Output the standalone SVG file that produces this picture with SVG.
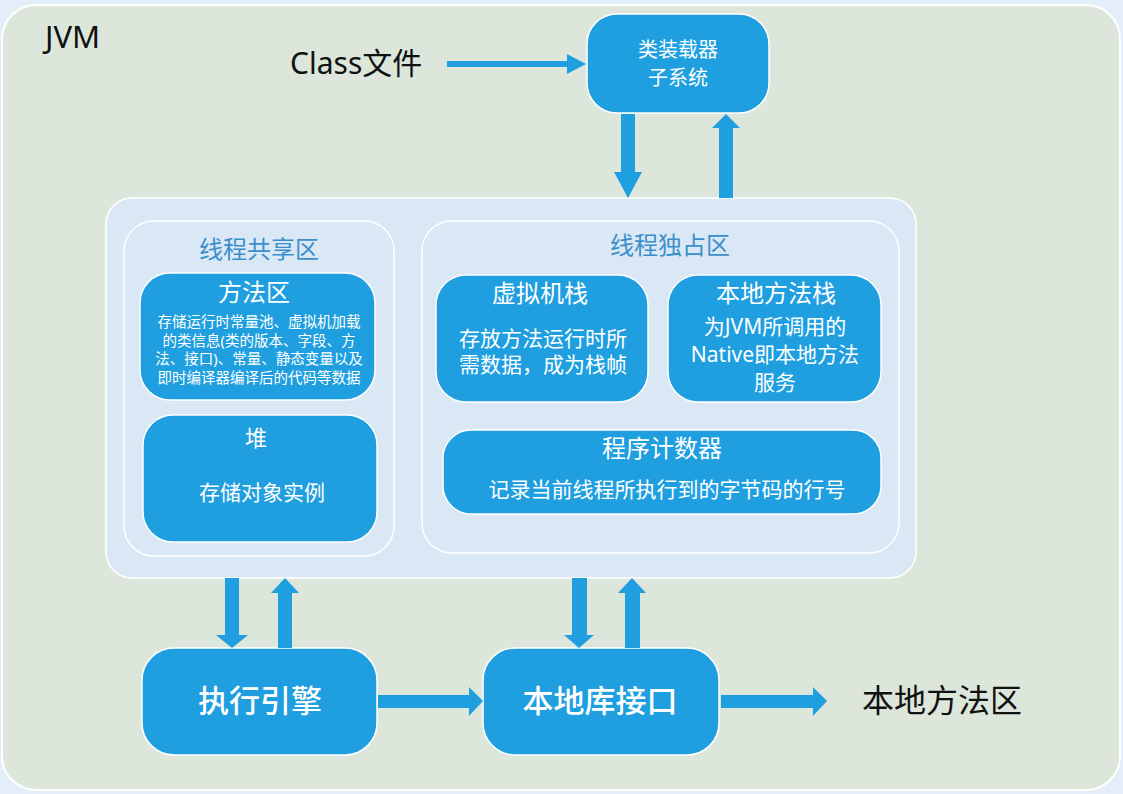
<svg xmlns="http://www.w3.org/2000/svg" width="1123" height="794" viewBox="0 0 1123 794">
<style>
text{font-family:"Noto Sans","Noto Sans CJK SC",sans-serif;}
.blk{fill:#1f9fe0;stroke:#ffffff;stroke-width:1.5;}
.reg{fill:#dae7f5;stroke:#ffffff;stroke-width:1.5;}
.w{fill:#ffffff;text-anchor:middle;}
.rt{fill:#3a8fcb;text-anchor:middle;font-size:24px;}
.arr{fill:#1f9fe0;}
</style>
<rect x="0" y="0" width="1123" height="794" fill="#e4eef8"/>
<rect x="2" y="5" width="1118" height="785" rx="34" fill="#dce6da" stroke="#ffffff" stroke-width="2"/>
<text x="45" y="48" font-size="31" fill="#111">JVM</text>
<text x="290" y="74" font-size="30" fill="#111">Class文件</text>
<text x="862" y="712" font-size="32" fill="#111">本地方法区</text>

<g id="loader">
<rect class="blk" x="587" y="14" width="182" height="99" rx="30"/>
<text class="w" x="678" y="57" font-size="20">类装载器</text>
<text class="w" x="678" y="85" font-size="20">子系统</text>
</g>

<g id="runtime">
<rect class="reg" x="106" y="198" width="810" height="380" rx="26"/>
</g>

<g id="shared">
<rect class="reg" x="124" y="221" width="270" height="335" rx="30"/>
<text class="rt" x="259" y="258">线程共享区</text>
</g>

<g id="method-area">
<rect class="blk" x="140" y="273" width="235" height="127" rx="30"/>
<text class="w" x="254" y="301" font-size="24">方法区</text>
<text class="w" x="259" y="327" font-size="14.5">存储运行时常量池、虚拟机加载</text>
<text class="w" x="259" y="346" font-size="14.5">的类信息(类的版本、字段、方</text>
<text class="w" x="259" y="364" font-size="14.5">法、接口)、常量、静态变量以及</text>
<text class="w" x="259" y="383" font-size="14.5">即时编译器编译后的代码等数据</text>
</g>

<g id="heap">
<rect class="blk" x="143" y="415" width="234" height="127" rx="30"/>
<text class="w" x="256" y="446" font-size="22">堆</text>
<text class="w" x="262" y="500" font-size="21">存储对象实例</text>
</g>

<g id="private">
<rect class="reg" x="422" y="221" width="477" height="332" rx="30"/>
<text class="rt" x="670" y="254">线程独占区</text>
</g>

<g id="vm-stack">
<rect class="blk" x="436" y="275" width="212" height="127" rx="30"/>
<text class="w" x="540" y="302" font-size="24">虚拟机栈</text>
<text class="w" x="543" y="346" font-size="21">存放方法运行时所</text>
<text class="w" x="543" y="372" font-size="21">需数据，成为栈帧</text>
</g>

<g id="native-stack">
<rect class="blk" x="668" y="275" width="213" height="127" rx="30"/>
<text class="w" x="776" y="302" font-size="24">本地方法栈</text>
<text class="w" x="775" y="334" font-size="21">为JVM所调用的</text>
<text class="w" x="775" y="362" font-size="21">Native即本地方法</text>
<text class="w" x="775" y="390" font-size="21">服务</text>
</g>

<g id="pc">
<rect class="blk" x="443" y="430" width="438" height="84" rx="28"/>
<text class="w" x="662" y="457" font-size="24">程序计数器</text>
<text class="w" x="667" y="497" font-size="21">记录当前线程所执行到的字节码的行号</text>
</g>

<g id="engine">
<rect class="blk" x="142" y="648" width="235" height="107" rx="32"/>
<text class="w" x="260" y="712" font-size="31" font-weight="500">执行引擎</text>
</g>

<g id="native-if">
<rect class="blk" x="483" y="648" width="236" height="107" rx="32"/>
<text class="w" x="600" y="712" font-size="31" font-weight="500">本地库接口</text>
</g>

<g id="connectors">
<polygon class="arr" points="447,61 567,61 567,54 586,64 567,74 567,67 447,67"/>
<polygon class="arr" points="621,114 635,114 635,172 642,172 628,198 614,172 621,172"/>
<polygon class="arr" points="719,198 733,198 733,128 740,128 726,114 712,128 719,128"/>
<polygon class="arr" points="225,578 239,578 239,635 248,635 232,648 216,635 225,635"/>
<polygon class="arr" points="278,648 292,648 292,593 299,593 285,578 271,593 278,593"/>
<polygon class="arr" points="572,578 587,578 587,635 594,635 579,648 564,635 572,635"/>
<polygon class="arr" points="625,648 640,648 640,593 646,593 632,578 618,593 625,593"/>
<polygon class="arr" points="378,695 469,695 469,687 483,701 469,716 469,708 378,708"/>
<polygon class="arr" points="721,695 813,695 813,687 827,701 813,716 813,708 721,708"/>
</g>
</svg>
